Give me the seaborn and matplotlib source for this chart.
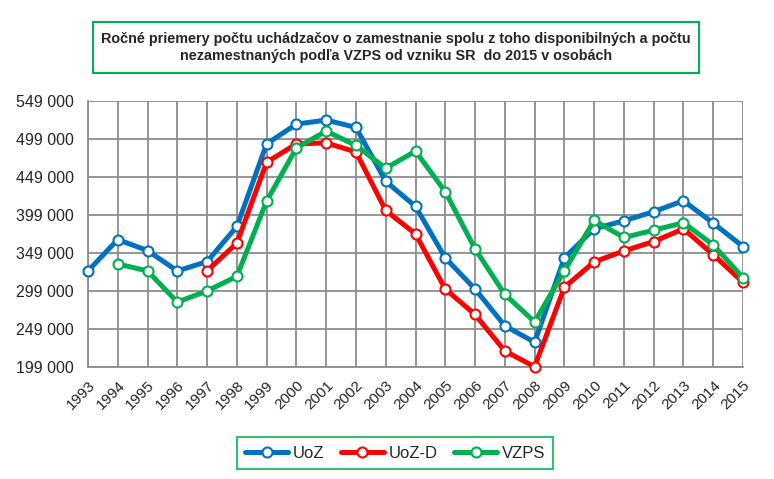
import matplotlib
matplotlib.use("Agg")
import matplotlib.pyplot as plt
import matplotlib.patches as mpatches
from matplotlib.lines import Line2D
from matplotlib.ticker import FuncFormatter
import seaborn as sns
import pandas as pd

years = list(range(1993, 2016))
uoz = [325400, 366700, 352200, 325400, 337700, 383900, 492600, 518600, 523900, 514200,
       443300, 410300, 342600, 301600, 253200, 231600, 342600, 380800, 391400, 403300,
       417800, 388300, 357500]
uoz_d = [None, None, None, None, 325400, 361900, 468400, 492600, 493900, 482000,
         405000, 374200, 301600, 268100, 220100, 199400, 303800, 337300, 351800, 364100,
         380800, 346900, 310400]
vzps = [None, 334600, 325400, 284400, 299000, 318300, 417300, 487300, 509400, 490500,
        460500, 483000, 429700, 354500, 294500, 258400, 325400, 391800, 369400, 379000,
        388800, 359700, 316500]
series_names = ["UoZ", "UoZ-D", "VZPS"]
colors = ["#0070C0", "#FF0000", "#00B050"]
y_ticks = [199000, 249000, 299000, 349000, 399000, 449000, 499000, 549000]
title = ("Ročné priemery počtu uchádzačov o zamestnanie spolu z toho disponibilných a počtu\n"
         "nezamestnaných podľa VZPS od vzniku SR  do 2015 v osobách")

rows = []
for name, vals in zip(series_names, [uoz, uoz_d, vzps]):
    for y, v in zip(years, vals):
        if v is not None:
            rows.append({"year": y, "value": v, "series": name})
df = pd.DataFrame(rows)

sns.set_style("white")
plt.rcParams['font.family'] = ['Liberation Sans Narrow', 'Liberation Sans', 'DejaVu Sans']

fig = plt.figure(figsize=(7.74, 4.79), dpi=100)
ax = fig.add_axes([88/774, 1-367/479, (743-88)/774, (367-101)/479])

sns.lineplot(data=df, x="year", y="value", hue="series", palette=dict(zip(series_names, colors)),
             hue_order=series_names, linewidth=3.6, marker="o", markersize=7.2,
             markerfacecolor="white", markeredgewidth=1.5, legend=False, ax=ax,
             clip_on=False, zorder=3)
for line, c in zip(ax.lines, colors):
    line.set_markeredgecolor(c)

ax.set_xlim(1993, 2015)
ax.set_ylim(199000, 549000)
ax.set_xticks(years)
ax.set_xticklabels([str(y) for y in years], rotation=45, ha="right", rotation_mode="anchor",
                   fontsize=11)
ax.set_yticks(y_ticks)
ax.yaxis.set_major_formatter(FuncFormatter(lambda v, p: f"{int(v):,}".replace(",", " ")))
ax.tick_params(axis="y", labelsize=11.5, length=5, color="#888888", width=1.2, pad=5)
ax.tick_params(axis="x", length=5, color="#888888", width=1.2, pad=3)
ax.grid(True, color="#8C8C8C", linewidth=1.3)
ax.set_axisbelow(True)
for s in ["top", "right"]:
    ax.spines[s].set_visible(False)
for s in ["left", "bottom"]:
    ax.spines[s].set_color("#8C8C8C")
    ax.spines[s].set_linewidth(1.3)
ax.set_xlabel("")
ax.set_ylabel("")

# Title box
fig.patches.append(mpatches.Rectangle((93/774, 1-73/479), (699-93)/774, (73-22)/479,
                                      transform=fig.transFigure, fill=False,
                                      edgecolor="#00B050", linewidth=1.5))
fig.text(396/774, 1-47.5/479, title, ha="center", va="center", fontsize=10.4,
         fontweight="bold", linespacing=1.3)

handles = [Line2D([0], [0], color=c, linewidth=3.6, marker="o", markersize=7.2,
                  markerfacecolor="white", markeredgecolor=c, markeredgewidth=1.5)
           for c in colors]
leg = fig.legend(handles, series_names, loc="center", bbox_to_anchor=(395/774, 1-453/479),
                 ncol=3, frameon=True, fancybox=False, fontsize=12, handlelength=2.6,
                 columnspacing=1.0, handletextpad=0.25, borderpad=0.5)
leg.get_frame().set_edgecolor("#00B050")
leg.get_frame().set_linewidth(1.5)

fig.savefig("out.png", dpi=100)
